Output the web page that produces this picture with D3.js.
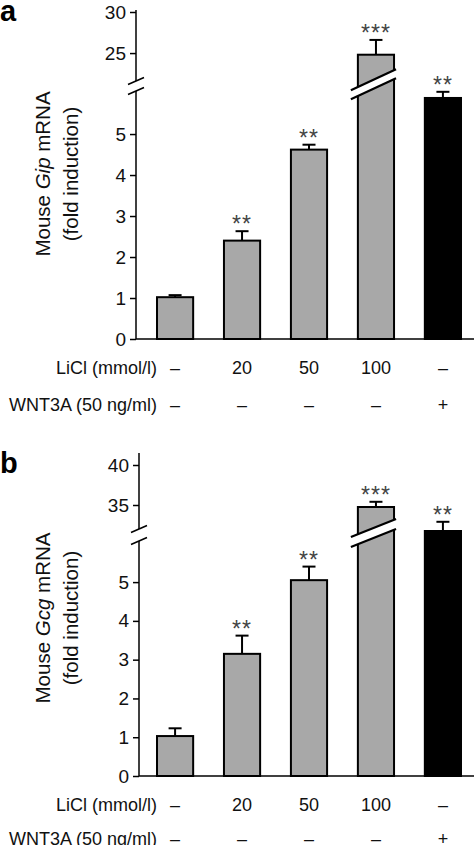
<!DOCTYPE html>
<html>
<head>
<meta charset="utf-8">
<script src="https://cdn.jsdelivr.net/npm/d3@7"></script>
<style>
  html, body { margin: 0; padding: 0; background: #fff; }
  svg { display: block; font-family: "Liberation Sans", Arial, Helvetica, sans-serif; }
</style>
</head>
<body>
<svg id="chart" width="474" height="845"></svg>
<script>
// ---------- data ----------
const categories = ["Control", "LiCl 20", "LiCl 50", "LiCl 100", "WNT3A"];
const liclLabels = ["–", "20", "50", "100", "–"];
const wnt3aLabels = ["–", "–", "–", "–", "+"];
const barKinds = ["gray", "gray", "gray", "gray", "black"];

const gipMeans  = [1.02, 2.40, 4.62, 24.8, 5.88];
const gipErrors = [0.05, 0.23, 0.12, 1.80, 0.15];
const gipStars  = ["", "**", "**", "***", "**"];
const gipLowTicks  = [0, 1, 2, 3, 4, 5];
const gipHighTicks = [25, 30];
const gipBreak = [6.05, 21.6];      // axis break: lower top, upper bottom
const gipTop = 30.25;

const gcgMeans  = [1.03, 3.15, 5.05, 34.75, 31.75];
const gcgErrors = [0.20, 0.47, 0.35, 0.65, 1.15];
const gcgStars  = ["", "**", "**", "***", "**"];
const gcgLowTicks  = [0, 1, 2, 3, 4, 5];
const gcgHighTicks = [35, 40];
const gcgBreak = [6.06, 32.0];
const gcgTop = 41.5;

// ---------- drawing ----------
const svg = d3.select("#chart");
const FONT = 18;

function drawPanel(p) {
  const g = svg.append("g");
  const y = d3.scaleLinear().domain(p.domain).range(p.range);
  const x = d3.scaleBand().domain(categories).range([140, 478])
    .paddingInner(0.46).paddingOuter(0.254);

  // panel letter
  g.append("text").attr("x", 0).attr("y", p.letterY)
    .attr("font-size", 29).attr("font-weight", "bold").text(p.letter);

  // y axes (ticks only), lower & upper
  const mkAxis = ticks => d3.axisLeft(y).tickValues(ticks).tickSize(6).tickPadding(4).tickFormat(d3.format("d"));
  [p.lowTicks, p.highTicks].forEach(t => {
    const a = g.append("g").attr("transform", `translate(${p.axisX},0)`).call(mkAxis(t));
    a.select(".domain").remove();
    a.selectAll("line").attr("stroke", "#000").attr("stroke-width", 1.5);
    a.selectAll("text").attr("font-size", 19).attr("fill", "#111")
      .attr("font-family", "Liberation Sans, Arial, sans-serif");
  });

  // axis line segments
  g.append("line").attr("x1", p.axisX).attr("x2", p.axisX)
    .attr("y1", y(0)).attr("y2", y(p.brk[0])).attr("stroke", "#000").attr("stroke-width", 1.5);
  g.append("line").attr("x1", p.axisX).attr("x2", p.axisX)
    .attr("y1", y(p.brk[1])).attr("y2", y(p.top)).attr("stroke", "#000").attr("stroke-width", 1.5);
  // break slashes
  [y(p.brk[0]), y(p.brk[1])].forEach(yy => {
    g.append("line").attr("x1", p.axisX - 8).attr("y1", yy + 3.5)
      .attr("x2", p.axisX + 8).attr("y2", yy - 3.5)
      .attr("stroke", "#000").attr("stroke-width", 1.6);
  });

  // x axis baseline
  g.append("line").attr("x1", p.axisX).attr("x2", 474)
    .attr("y1", y(0)).attr("y2", y(0)).attr("stroke", "#000").attr("stroke-width", 1.5);

  // bars
  const bw = x.bandwidth();
  p.means.forEach((v, i) => {
    const c = categories[i];
    g.append("rect").attr("x", x(c)).attr("y", y(v))
      .attr("width", bw).attr("height", y(0) - y(v))
      .attr("fill", barKinds[i] === "black" ? "#000" : "#a8a8a8")
      .attr("stroke", "#000").attr("stroke-width", 2);
    // error bar
    const cx = x(c) + bw / 2;
    const et = y(v + p.errs[i]);
    g.append("line").attr("x1", cx).attr("x2", cx).attr("y1", y(v)).attr("y2", et)
      .attr("stroke", "#000").attr("stroke-width", 2);
    g.append("line").attr("x1", cx - 6.5).attr("x2", cx + 6.5).attr("y1", et).attr("y2", et)
      .attr("stroke", "#000").attr("stroke-width", 2);
    // stars
    if (p.stars[i]) {
      g.append("text").attr("x", cx).attr("y", et + 1)
        .attr("text-anchor", "middle").attr("font-size", 23).attr("letter-spacing", 1)
        .attr("fill", "#444").text(p.stars[i]);
    }
    // broken bar band
    if (v > p.brk[1]) {
      const bc = (y(p.brk[0]) + y(p.brk[1])) / 2 - 3;
      const xl = x(c) - 7, xr = x(c) + bw + 2;
      const s = p.slope, h = p.sep / 2;
      const mid = x(c) + bw / 2;
      const yAt = (xx, off) => bc + off - s * (xx - mid);
      g.append("polygon")
        .attr("points", [[xl, yAt(xl, -h)], [xr, yAt(xr, -h)], [xr, yAt(xr, h)], [xl, yAt(xl, h)]].map(d => d.join(",")).join(" "))
        .attr("fill", "#fff");
      [-h, h].forEach(off => {
        g.append("line").attr("x1", xl).attr("y1", yAt(xl, off))
          .attr("x2", xr).attr("y2", yAt(xr, off))
          .attr("stroke", "#000").attr("stroke-width", 2.2);
      });
    }
  });

  // y label
  const yl = g.append("text").attr("transform", `translate(${p.ylx1},${p.ylCenter}) rotate(-90)`)
    .attr("text-anchor", "middle").attr("font-size", 20.5).attr("fill", "#111");
  yl.append("tspan").text("Mouse ");
  yl.append("tspan").attr("font-style", "italic").text(p.gene);
  yl.append("tspan").text(" mRNA");
  g.append("text").attr("transform", `translate(${p.ylx2},${p.ylCenter}) rotate(-90)`)
    .attr("text-anchor", "middle").attr("font-size", 20.5).attr("fill", "#111")
    .text("(fold induction)");

  // condition rows
  g.append("text").attr("x", 157).attr("y", p.row1).attr("text-anchor", "end")
    .attr("font-size", FONT).attr("fill", "#111").text("LiCl (mmol/l)");
  g.append("text").attr("x", 157).attr("y", p.row2).attr("text-anchor", "end")
    .attr("font-size", FONT).attr("fill", "#111").text("WNT3A (50 ng/ml)");
  categories.forEach((c, i) => {
    const cx = x(c) + bw / 2;
    g.append("text").attr("x", cx).attr("y", p.row1).attr("text-anchor", "middle")
      .attr("font-size", FONT).attr("fill", "#111").text(liclLabels[i]);
    g.append("text").attr("x", cx).attr("y", p.row2).attr("text-anchor", "middle")
      .attr("font-size", FONT).attr("fill", "#111").text(wnt3aLabels[i]);
  });
}

drawPanel({
  letter: "a", letterY: 21, axisX: 136,
  domain: [0, gipBreak[0], gipBreak[1], 30], range: [339, 91, 81, 12],
  brk: gipBreak, top: gipTop,
  lowTicks: gipLowTicks, highTicks: gipHighTicks,
  means: gipMeans, errs: gipErrors, stars: gipStars,
  slope: 0.465, sep: 9,
  gene: "Gip", ylx1: 50, ylx2: 78, ylCenter: 174,
  row1: 374, row2: 411
});

drawPanel({
  letter: "b", letterY: 473, axisX: 139,
  domain: [0, gcgBreak[0], 31.5, 40], range: [776, 541, 533, 465],
  brk: gcgBreak, top: 41.5,
  lowTicks: gcgLowTicks, highTicks: gcgHighTicks,
  means: gcgMeans, errs: gcgErrors, stars: gcgStars,
  slope: 0.4, sep: 10,
  gene: "Gcg", ylx1: 50, ylx2: 78, ylCenter: 618,
  row1: 811, row2: 845
});
</script>
</body>
</html>
